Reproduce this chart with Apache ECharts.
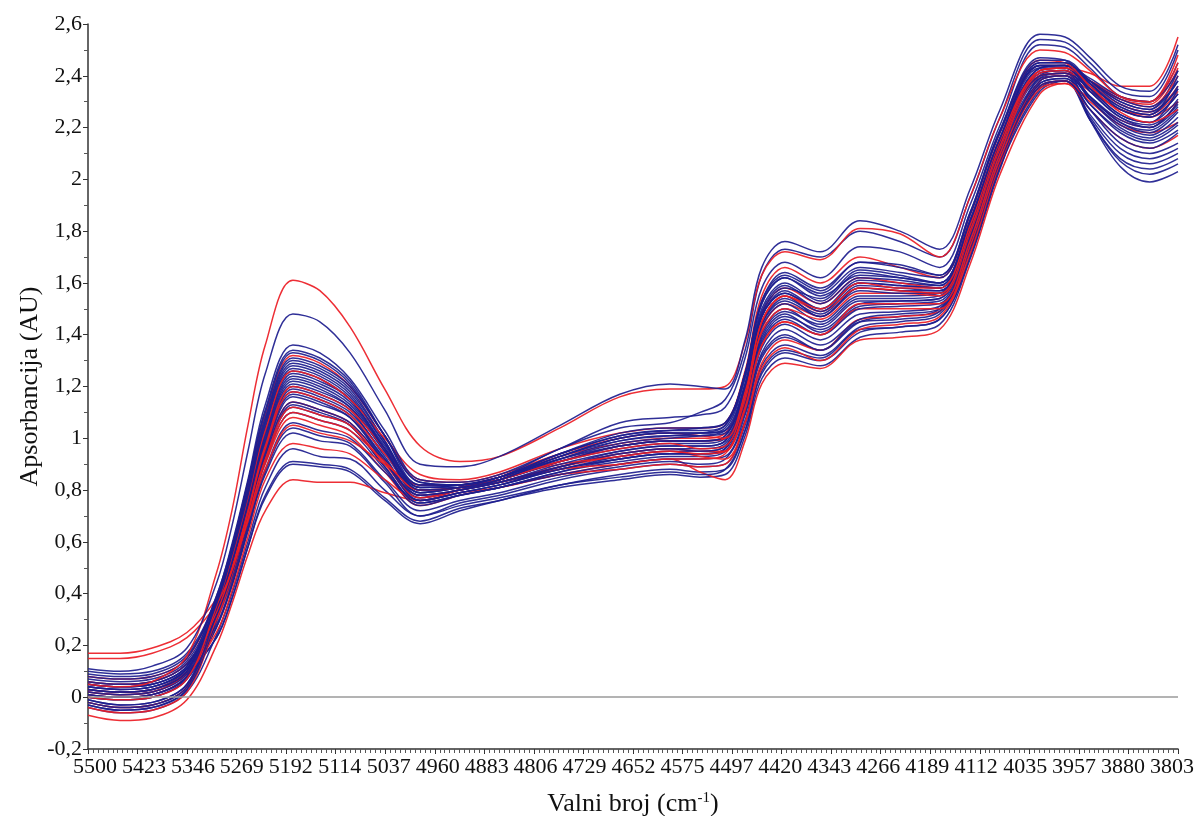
<!DOCTYPE html>
<html>
<head>
<meta charset="utf-8">
<script src="https://cdn.jsdelivr.net/npm/echarts@6/dist/echarts.min.js"></script>
<style>
html,body{margin:0;padding:0;background:#fff;}
#chart{width:1196px;height:816px;}
</style>
</head>
<body>
<div id="chart"></div>
<script>
const WAVENUMBERS = [5500,5450,5400,5346,5300,5276,5251,5224,5181,5139,5092,5038,4983,4921,4859,4765,4672,4594,4547,4508,4477,4451,4415,4360,4298,4236,4174,4127,4080,4018,3979,3940,3893,3847,3803];

// x-axis tick labels
const X_TICK_LABELS = ['5500','5423','5346','5269','5192','5114','5037','4960','4883','4806','4729','4652','4575','4497','4420','4343','4266','4189','4112','4035','3957','3880','3803'];

// Red spectra
const RED_1  = [0.17,0.17,0.19,0.25,0.38,0.50,0.68,0.88,1.05,1.02,0.99,0.90,0.82,0.82,0.85,0.90,0.93,0.95,0.94,0.95,1.12,1.36,1.45,1.40,1.52,1.52,1.52,1.76,2.10,2.40,2.41,2.38,2.32,2.30,2.48];
const RED_2  = [0.15,0.15,0.17,0.23,0.36,0.49,0.69,0.91,1.10,1.07,1.03,0.91,0.80,0.81,0.84,0.91,0.96,0.98,0.96,0.97,1.16,1.45,1.55,1.50,1.60,1.58,1.58,1.82,2.15,2.42,2.43,2.41,2.36,2.36,2.55];
const RED_3  = [0.05,0.04,0.06,0.16,0.48,0.72,1.05,1.36,1.61,1.57,1.43,1.19,0.97,0.91,0.93,1.04,1.16,1.19,1.19,1.20,1.37,1.63,1.72,1.69,1.81,1.79,1.70,1.93,2.24,2.50,2.49,2.42,2.32,2.30,2.45];
const RED_4  = [-0.07,-0.09,-0.08,-0.01,0.20,0.36,0.55,0.72,0.84,0.83,0.83,0.79,0.76,0.79,0.81,0.86,0.90,0.92,0.87,0.84,0.99,1.21,1.29,1.27,1.38,1.39,1.42,1.67,2.02,2.33,2.37,2.31,2.23,2.20,2.30];
const RED_5  = [0.02,0.01,0.02,0.09,0.25,0.41,0.62,0.84,0.98,0.96,0.94,0.84,0.76,0.80,0.83,0.89,0.93,0.95,0.93,0.92,1.06,1.27,1.35,1.30,1.42,1.44,1.47,1.71,2.06,2.36,2.38,2.30,2.21,2.18,2.22];
const RED_6  = [0.06,0.05,0.06,0.13,0.33,0.50,0.72,0.97,1.20,1.17,1.11,0.96,0.82,0.82,0.85,0.93,0.98,1.00,1.00,1.02,1.20,1.48,1.58,1.52,1.62,1.60,1.58,1.82,2.15,2.44,2.44,2.37,2.29,2.26,2.36];
const RED_7  = [-0.02,-0.04,-0.03,0.04,0.31,0.48,0.70,0.93,1.14,1.11,1.06,0.91,0.78,0.80,0.83,0.88,0.90,0.92,0.92,0.94,1.11,1.36,1.45,1.40,1.50,1.50,1.50,1.74,2.08,2.38,2.40,2.34,2.27,2.24,2.30];
const RED_8  = [0.00,-0.01,0.00,0.07,0.35,0.54,0.77,1.03,1.26,1.23,1.15,1.00,0.86,0.84,0.87,0.96,1.02,1.04,1.04,1.06,1.26,1.55,1.66,1.60,1.70,1.66,1.62,1.86,2.18,2.46,2.45,2.36,2.26,2.22,2.27];
const RED_9  = [-0.04,-0.06,-0.05,0.02,0.29,0.45,0.67,0.90,1.08,1.05,1.01,0.87,0.74,0.78,0.81,0.86,0.88,0.90,0.89,0.90,1.06,1.29,1.38,1.34,1.46,1.47,1.49,1.73,2.07,2.35,2.37,2.27,2.16,2.12,2.17];
const RED_10 = [0.08,0.07,0.08,0.15,0.38,0.57,0.82,1.09,1.32,1.29,1.20,1.01,0.84,0.83,0.86,0.94,1.00,1.02,1.01,1.00,1.18,1.45,1.55,1.49,1.58,1.57,1.56,1.80,2.13,2.42,2.43,2.38,2.31,2.28,2.40];
const RED_11 = [0.03,0.02,0.03,0.10,0.33,0.49,0.71,0.96,1.18,1.15,1.09,0.94,0.80,0.81,0.84,0.91,0.97,0.99,0.99,1.00,1.17,1.41,1.50,1.46,1.56,1.56,1.55,1.79,2.12,2.41,2.42,2.37,2.31,2.29,2.43];
const RED_12 = [0.01,0.00,0.01,0.08,0.30,0.47,0.69,0.92,1.12,1.09,1.05,0.90,0.77,0.80,0.83,0.89,0.94,0.96,0.95,0.95,1.14,1.42,1.52,1.47,1.58,1.57,1.56,1.80,2.13,2.40,2.41,2.35,2.27,2.25,2.34];

// Blue spectra
const BLUE_1  = [0.11,0.10,0.12,0.19,0.44,0.66,0.95,1.25,1.48,1.45,1.33,1.11,0.90,0.89,0.93,1.05,1.17,1.21,1.20,1.19,1.38,1.66,1.76,1.72,1.84,1.80,1.73,1.96,2.27,2.56,2.55,2.47,2.36,2.34,2.52];
const BLUE_2  = [0.08,0.07,0.08,0.15,0.39,0.59,0.84,1.13,1.36,1.33,1.23,1.03,0.84,0.83,0.86,0.96,1.06,1.08,1.09,1.12,1.31,1.58,1.68,1.62,1.74,1.72,1.66,1.90,2.21,2.52,2.51,2.43,2.32,2.30,2.45];
const BLUE_3  = [0.05,0.04,0.05,0.12,0.39,0.58,0.83,1.11,1.34,1.31,1.22,1.01,0.82,0.82,0.85,0.94,1.02,1.04,1.04,1.06,1.25,1.52,1.62,1.56,1.66,1.64,1.62,1.86,2.18,2.45,2.45,2.37,2.28,2.25,2.40];
const BLUE_4  = [0.03,0.02,0.03,0.10,0.37,0.56,0.80,1.07,1.30,1.27,1.19,0.99,0.80,0.81,0.84,0.93,1.00,1.02,1.02,1.04,1.23,1.50,1.60,1.53,1.64,1.62,1.60,1.84,2.16,2.44,2.44,2.35,2.25,2.22,2.35];
const BLUE_5  = [0.07,0.06,0.07,0.14,0.36,0.54,0.78,1.04,1.27,1.24,1.16,0.98,0.82,0.82,0.85,0.92,0.97,0.99,0.99,1.01,1.20,1.47,1.57,1.50,1.60,1.59,1.58,1.82,2.15,2.43,2.44,2.38,2.30,2.27,2.42];
const BLUE_6  = [0.02,0.01,0.02,0.09,0.35,0.53,0.76,1.02,1.25,1.22,1.15,0.96,0.78,0.80,0.83,0.90,0.95,0.97,0.97,0.99,1.18,1.45,1.55,1.47,1.57,1.56,1.56,1.80,2.13,2.42,2.43,2.34,2.24,2.20,2.30];
const BLUE_7  = [0.04,0.03,0.04,0.11,0.34,0.51,0.74,0.99,1.22,1.19,1.12,0.95,0.79,0.81,0.84,0.91,0.96,0.98,0.98,1.00,1.17,1.43,1.52,1.45,1.55,1.55,1.56,1.80,2.13,2.40,2.41,2.35,2.27,2.24,2.33];
const BLUE_8  = [0.00,-0.01,0.00,0.07,0.33,0.50,0.72,0.97,1.20,1.17,1.11,0.93,0.77,0.80,0.83,0.89,0.94,0.96,0.96,0.98,1.15,1.41,1.50,1.43,1.53,1.53,1.54,1.78,2.11,2.41,2.42,2.32,2.22,2.18,2.26];
const BLUE_9  = [-0.01,-0.03,-0.02,0.05,0.32,0.49,0.71,0.96,1.18,1.15,1.09,0.92,0.76,0.79,0.82,0.88,0.92,0.94,0.94,0.96,1.13,1.39,1.48,1.41,1.51,1.52,1.53,1.77,2.11,2.39,2.41,2.31,2.20,2.16,2.22];
const BLUE_10 = [0.06,0.05,0.06,0.13,0.32,0.48,0.70,0.94,1.16,1.13,1.08,0.92,0.78,0.80,0.83,0.89,0.94,0.96,0.95,0.97,1.13,1.37,1.46,1.40,1.50,1.51,1.52,1.76,2.10,2.38,2.40,2.32,2.23,2.20,2.28];
const BLUE_11 = [-0.03,-0.05,-0.04,0.03,0.30,0.47,0.69,0.92,1.12,1.09,1.05,0.89,0.75,0.78,0.81,0.87,0.91,0.93,0.93,0.95,1.11,1.35,1.44,1.38,1.48,1.49,1.51,1.75,2.09,2.37,2.39,2.29,2.18,2.14,2.19];
const BLUE_12 = [0.01,0.00,0.01,0.08,0.35,0.52,0.75,1.01,1.24,1.21,1.14,0.96,0.80,0.81,0.84,0.92,0.98,1.00,1.01,1.03,1.21,1.48,1.58,1.54,1.65,1.63,1.60,1.84,2.16,2.44,2.44,2.38,2.31,2.28,2.38];
const BLUE_13 = [-0.02,-0.04,-0.03,0.04,0.30,0.46,0.68,0.91,1.10,1.07,1.03,0.88,0.74,0.78,0.81,0.86,0.90,0.92,0.92,0.93,1.09,1.33,1.42,1.36,1.46,1.48,1.50,1.74,2.08,2.37,2.39,2.27,2.14,2.10,2.14];
const BLUE_14 = [0.04,0.03,0.04,0.11,0.28,0.44,0.66,0.88,1.06,1.03,1.00,0.87,0.76,0.79,0.82,0.88,0.92,0.94,0.94,0.95,1.10,1.32,1.40,1.34,1.45,1.46,1.49,1.73,2.07,2.36,2.38,2.27,2.16,2.12,2.18];
const BLUE_15 = [0.00,-0.01,0.00,0.07,0.27,0.43,0.64,0.86,1.02,0.99,0.97,0.83,0.70,0.75,0.78,0.84,0.88,0.90,0.89,0.90,1.05,1.28,1.36,1.32,1.43,1.45,1.48,1.72,2.06,2.35,2.38,2.24,2.10,2.06,2.10];
const BLUE_16 = [-0.04,-0.06,-0.05,0.02,0.24,0.40,0.60,0.81,0.96,0.93,0.92,0.80,0.70,0.74,0.77,0.82,0.86,0.88,0.87,0.88,1.03,1.25,1.33,1.30,1.41,1.43,1.46,1.70,2.05,2.34,2.38,2.23,2.08,2.04,2.08];
const BLUE_17 = [0.03,0.02,0.03,0.10,0.23,0.38,0.58,0.77,0.90,0.89,0.87,0.76,0.67,0.72,0.76,0.81,0.84,0.86,0.85,0.86,1.01,1.23,1.31,1.28,1.39,1.41,1.44,1.69,2.04,2.40,2.42,2.23,2.05,1.99,2.03];
const BLUE_18 = [0.02,0.01,0.02,0.09,0.23,0.38,0.58,0.78,0.91,0.90,0.88,0.77,0.68,0.73,0.76,0.82,0.85,0.87,0.86,0.88,1.03,1.26,1.34,1.31,1.42,1.43,1.46,1.70,2.05,2.38,2.40,2.23,2.07,2.02,2.06];
const BLUE_19 = [0.05,0.04,0.05,0.12,0.36,0.55,0.78,1.05,1.28,1.25,1.17,0.98,0.81,0.81,0.84,0.93,0.99,1.01,1.02,1.05,1.25,1.53,1.64,1.58,1.68,1.66,1.63,1.87,2.19,2.47,2.46,2.38,2.29,2.26,2.35];
const BLUE_20 = [0.10,0.09,0.10,0.17,0.38,0.58,0.83,1.10,1.33,1.30,1.21,1.01,0.83,0.82,0.85,0.96,1.04,1.06,1.10,1.15,1.34,1.63,1.73,1.70,1.80,1.76,1.70,1.93,2.24,2.54,2.53,2.45,2.34,2.32,2.50];
const BLUE_21 = [0.01,0.00,0.01,0.08,0.33,0.50,0.72,0.96,1.19,1.16,1.10,0.94,0.79,0.81,0.84,0.91,0.97,0.99,0.99,1.00,1.18,1.44,1.53,1.47,1.58,1.57,1.57,1.81,2.14,2.43,2.43,2.35,2.25,2.22,2.31];
const BLUE_22 = [0.03,0.02,0.03,0.10,0.37,0.56,0.79,1.06,1.29,1.26,1.18,0.99,0.81,0.82,0.85,0.94,1.01,1.03,1.03,1.05,1.24,1.52,1.62,1.55,1.63,1.62,1.60,1.84,2.16,2.45,2.45,2.37,2.27,2.24,2.33];
const BLUE_23 = [-0.01,-0.03,-0.02,0.05,0.31,0.48,0.70,0.93,1.14,1.11,1.06,0.91,0.77,0.80,0.83,0.88,0.93,0.95,0.95,0.97,1.14,1.40,1.49,1.44,1.54,1.54,1.55,1.79,2.12,2.40,2.41,2.31,2.21,2.17,2.24];
const BLUE_24 = [0.06,0.05,0.06,0.13,0.34,0.52,0.75,1.00,1.23,1.20,1.13,0.96,0.80,0.81,0.84,0.92,0.99,1.01,1.01,1.02,1.20,1.47,1.56,1.49,1.60,1.59,1.58,1.82,2.15,2.44,2.44,2.39,2.32,2.30,2.42];
const BLUE_25 = [0.09,0.08,0.09,0.16,0.37,0.56,0.81,1.08,1.31,1.28,1.20,1.01,0.83,0.82,0.85,0.94,1.01,1.03,1.04,1.06,1.25,1.53,1.63,1.57,1.68,1.67,1.63,1.87,2.19,2.46,2.46,2.38,2.30,2.27,2.38];
const BLUE_26 = [-0.02,-0.04,-0.03,0.04,0.32,0.49,0.71,0.95,1.17,1.14,1.08,0.91,0.76,0.79,0.82,0.89,0.95,0.97,0.97,0.99,1.17,1.44,1.54,1.48,1.59,1.58,1.57,1.81,2.14,2.41,2.42,2.32,2.22,2.19,2.27];
const BLUE_27 = [0.05,0.04,0.05,0.12,0.34,0.51,0.73,0.98,1.21,1.18,1.12,0.95,0.79,0.81,0.84,0.91,0.97,0.99,0.99,1.01,1.19,1.47,1.56,1.50,1.61,1.60,1.59,1.83,2.15,2.42,2.43,2.34,2.24,2.21,2.29];
const BLUE_28 = [0.01,0.00,0.01,0.08,0.27,0.43,0.65,0.87,1.04,1.01,0.98,0.84,0.72,0.76,0.79,0.85,0.89,0.91,0.90,0.92,1.07,1.31,1.39,1.34,1.45,1.47,1.50,1.74,2.07,2.36,2.38,2.25,2.12,2.08,2.12];
const BLUE_29 = [0.04,0.03,0.04,0.11,0.35,0.54,0.77,1.03,1.26,1.23,1.15,0.97,0.81,0.82,0.85,0.93,1.00,1.02,1.02,1.03,1.21,1.49,1.59,1.52,1.62,1.61,1.59,1.83,2.15,2.43,2.44,2.36,2.28,2.25,2.36];
const BLUE_30 = [-0.03,-0.05,-0.04,0.03,0.30,0.47,0.69,0.92,1.13,1.10,1.05,0.89,0.75,0.78,0.81,0.87,0.92,0.94,0.94,0.96,1.13,1.38,1.47,1.42,1.52,1.53,1.54,1.78,2.11,2.39,2.40,2.29,2.19,2.15,2.21];

// Drawing order (blue and red interleaved)
const SPECTRA = [
  ['b', BLUE_16], ['b', BLUE_17], ['r', RED_4], ['b', BLUE_18], ['b', BLUE_15], ['b', BLUE_28], ['r', RED_9],
  ['b', BLUE_13], ['b', BLUE_11], ['r', RED_5], ['b', BLUE_14], ['b', BLUE_30], ['b', BLUE_9], ['r', RED_7],
  ['b', BLUE_8], ['b', BLUE_23], ['r', RED_12], ['b', BLUE_10], ['b', BLUE_26], ['r', RED_1], ['b', BLUE_7],
  ['b', BLUE_21], ['r', RED_11], ['b', BLUE_27], ['r', RED_6], ['b', BLUE_6], ['b', BLUE_5], ['r', RED_10],
  ['b', BLUE_24], ['b', BLUE_12], ['b', BLUE_29], ['r', RED_2], ['b', BLUE_4], ['b', BLUE_22], ['r', RED_8],
  ['b', BLUE_19], ['b', BLUE_25], ['b', BLUE_3], ['b', BLUE_2], ['b', BLUE_20], ['r', RED_3], ['b', BLUE_1]
];

const COLORS = { b: '#1d1d8e', r: '#ec1c24' };
const FONT = '"Liberation Serif", "DejaVu Serif", serif';

// The tick labels in the picture are spaced slightly tighter than the ticks:
// the first sits ~7px right of its tick, the last ~6px left of its tick.
const labelRich = {};
X_TICK_LABELS.forEach(function (lab, i) {
  const n = X_TICK_LABELS.length - 1;
  const shift = 7 - 13 * i / n;
  labelRich['p' + i] = {
    fontFamily: FONT, fontSize: 22, color: '#111',
    padding: shift >= 0 ? [0, 0, 0, 2 * shift] : [0, -2 * shift, 0, 0]
  };
});

const chart = echarts.init(document.getElementById('chart'), null, { renderer: 'canvas' });

const series = SPECTRA.map(function (s) {
  return {
    type: 'line',
    xAxisIndex: 1,
    yAxisIndex: 0,
    data: WAVENUMBERS.map(function (w, i) { return [w, s[1][i]]; }),
    showSymbol: false,
    smooth: 0.35,
    silent: true,
    lineStyle: { color: COLORS[s[0]], width: 1.5, opacity: 0.92 },
    emphasis: { disabled: true },
    z: 3
  };
});

// zero line
series.unshift({
  type: 'line',
  xAxisIndex: 1,
  yAxisIndex: 0,
  data: [],
  silent: true,
  z: 2,
  markLine: {
    silent: true,
    symbol: ['none', 'none'],
    label: { show: false },
    lineStyle: { color: '#9a9a9a', width: 1.5, type: 'solid' },
    data: [{ yAxis: 0 }]
  }
});

const option = {
  animation: false,
  backgroundColor: '#ffffff',
  grid: { left: 88, right: 18, top: 24, bottom: 67, containLabel: false, outerBoundsMode: 'none' },
  xAxis: [
    {
      type: 'value',
      min: 0,
      max: X_TICK_LABELS.length - 1,
      interval: 1,
      position: 'bottom',
      name: 'Valni broj (cm{sup|-1})',
      nameLocation: 'middle',
      nameGap: 42,
      nameMoveOverlap: false,
      nameTextStyle: {
        fontFamily: FONT, fontSize: 26, color: '#111',
        rich: { sup: { fontFamily: FONT, fontSize: 15, color: '#111', verticalAlign: 'top', lineHeight: 14 } }
      },
      axisLine: { show: true, onZero: false, lineStyle: { color: '#333', width: 1.5 } },
      axisTick: { show: true, length: 5, lineStyle: { color: '#333' } },
      minorTick: { show: true, splitNumber: 10, length: 4, lineStyle: { color: '#555' } },
      splitLine: { show: false },
      axisLabel: {
        fontFamily: FONT, fontSize: 22, color: '#111', margin: 7,
        hideOverlap: false,
        rich: labelRich,
        formatter: function (v) {
          const i = Math.round(v);
          return X_TICK_LABELS[i] !== undefined ? '{p' + i + '|' + X_TICK_LABELS[i] + '}' : '';
        }
      }
    },
    {
      type: 'value',
      min: 3803,
      max: 5500,
      inverse: true,
      show: false,
      splitLine: { show: false }
    }
  ],
  yAxis: {
    type: 'value',
    min: -0.2,
    max: 2.6,
    interval: 0.2,
    name: 'Apsorbancija (AU)',
    nameLocation: 'middle',
    nameRotate: 90,
    nameGap: 45,
    nameMoveOverlap: false,
    nameTextStyle: { fontFamily: FONT, fontSize: 26, color: '#111' },
    axisLine: { show: true, onZero: false, lineStyle: { color: '#333', width: 1.5 } },
    axisTick: { show: true, length: 5, lineStyle: { color: '#333' } },
    minorTick: { show: true, splitNumber: 2, length: 4, lineStyle: { color: '#555' } },
    splitLine: { show: false },
    axisLabel: {
      fontFamily: FONT, fontSize: 22, color: '#111', margin: 6,
      formatter: function (v) { const r = Math.round(v * 10) / 10; return String(r).replace('.', ','); }
    }
  },
  series: series
};

chart.setOption(option);
</script>
</body>
</html>
